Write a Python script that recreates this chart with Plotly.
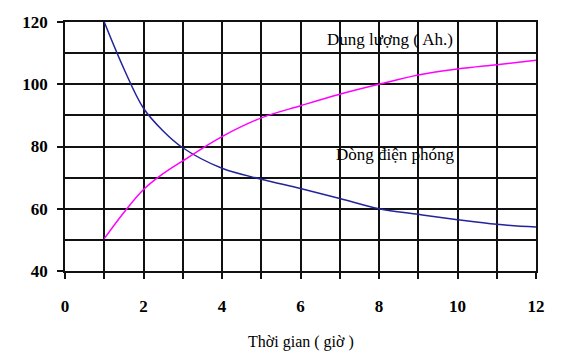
import plotly.graph_objects as go

# Data
hours_current = [1, 1.5, 2, 2.5, 3, 4, 5, 6, 7, 8, 9, 10, 11, 12]
discharge_current = [120, 105, 92.3, 85, 79.6, 73, 69.5, 66.5, 63.3, 60, 58.2, 56.5, 55, 54.1]

hours_capacity = [1, 1.5, 2, 2.5, 3, 4, 5, 6, 7, 8, 9, 10, 11, 12]
capacity = [50.4, 58.8, 66.2, 71.3, 75.4, 83.2, 89.2, 93.1, 96.8, 100, 103, 104.9, 106.3, 107.7]

x_title = "Thời gian ( giờ )"
label_capacity = "Dung lượng ( Ah.)"
label_current = "Dòng điện phóng"

fig = go.Figure()
fig.add_trace(go.Scatter(x=hours_current, y=discharge_current, mode="lines",
                         line=dict(color="#23239a", width=1.5, shape="spline", smoothing=1),
                         showlegend=False))
fig.add_trace(go.Scatter(x=hours_capacity, y=capacity, mode="lines",
                         line=dict(color="#ff00ff", width=1.5, shape="spline", smoothing=1),
                         showlegend=False))

fig.add_annotation(x=8.29, y=114.4, text=label_capacity, showarrow=False,
                   font=dict(family="Liberation Serif", size=17, color="black"))
fig.add_annotation(x=8.42, y=77.3, text=label_current, showarrow=False,
                   font=dict(family="Liberation Serif", size=17, color="black"))
fig.add_annotation(x=0.5, xref="paper", y=-0.284, yref="paper", text=x_title,
                   showarrow=False, yanchor="middle",
                   font=dict(family="Liberation Serif", size=16, color="black"))

tick_font = dict(family="Liberation Serif, serif", size=17, color="black", weight="bold")

fig.update_xaxes(range=[0, 12], dtick=2, tick0=0, showgrid=True, gridcolor="#111", gridwidth=1.5,
                 showline=True, linecolor="#111", linewidth=1.5, mirror=True,
                 ticks="outside", ticklen=6, tickcolor="#111", tickwidth=1.5,
                 ticklabelstandoff=13, zeroline=False, tickfont=tick_font,
                 minor=dict(dtick=1, showgrid=True, gridcolor="#111", gridwidth=1.5,
                            ticks="outside", ticklen=6, tickcolor="#111", tickwidth=1.5))
fig.update_yaxes(range=[40, 120], dtick=20, tick0=40, showgrid=True, gridcolor="#111", gridwidth=1.5,
                 showline=True, linecolor="#111", linewidth=1.5, mirror=True,
                 ticks="outside", ticklen=6, tickcolor="#111", tickwidth=1.5,
                 ticklabelstandoff=6, zeroline=False, tickfont=tick_font,
                 minor=dict(dtick=10, showgrid=True, gridcolor="#111", gridwidth=1.5))

fig.update_layout(width=569, height=354, margin=dict(l=65, r=33, t=22, b=83),
                  plot_bgcolor="white", paper_bgcolor="white")

fig.write_html("out.html")
